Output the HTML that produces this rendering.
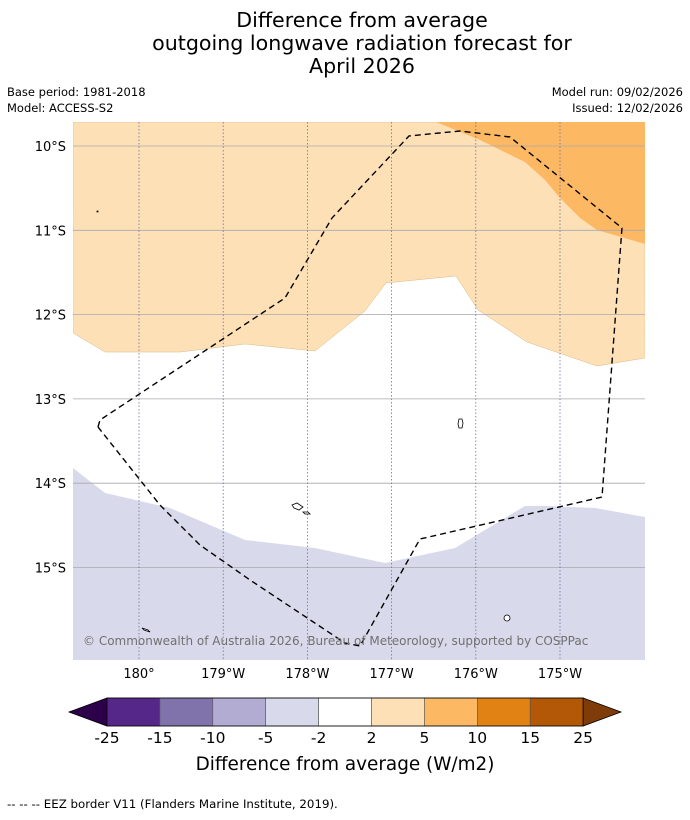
<!DOCTYPE html>
<html><head><meta charset="utf-8"><style>
body{margin:0;background:#fff;width:690px;height:816px;overflow:hidden;font-family:"DejaVu Sans","Liberation Sans",sans-serif}
</style></head><body>
<svg id="s" width="690" height="816" xmlns="http://www.w3.org/2000/svg" font-family="DejaVu Sans, Liberation Sans, sans-serif">
<g font-size="20.6" text-anchor="middle" fill="#000">
<text x="362" y="27">Difference from average</text>
<text x="362" y="50">outgoing longwave radiation forecast for</text>
<text x="362" y="73">April 2026</text>
</g>
<g font-size="11.5" fill="#000">
<text x="7" y="96">Base period: 1981-2018</text>
<text x="7" y="112">Model: ACCESS-S2</text>
<text x="683" y="96" text-anchor="end">Model run: 09/02/2026</text>
<text x="683" y="112" text-anchor="end">Issued: 12/02/2026</text>
</g>
<defs><clipPath id="mc"><rect x="73" y="122" width="572" height="538"/></clipPath></defs>
<g id="map" clip-path="url(#mc)"></g>
<g id="axes"></g>
<g id="cbar"></g>
<text x="345" y="770" font-size="18.4" text-anchor="middle">Difference from average (W/m2)</text>
<text x="7" y="808" font-size="11.8">--  --  -- EEZ border V11 (Flanders Marine Institute, 2019).</text>
</svg>
<script>
// data in degrees (lon east 0-360, lat positive south)
const lonTicks=[180,181,182,183,184,185];
const lonLabels=["180°","179°W","178°W","177°W","176°W","175°W"];
const latTicks=[10,11,12,13,14,15];
const latLabels=["10°S","11°S","12°S","13°S","14°S","15°S"];
const orangeLightLon=[179.216,179.596,180.487,181.259,182.090,182.684,182.933,183.765,184.026,184.608,185.439,186.01];
const orangeLightLat=[12.218,12.444,12.444,12.349,12.432,11.957,11.625,11.542,11.945,12.325,12.610,12.515];
const orangeMedLon=[183.527,184.050,184.584,184.822,185.0,185.238,185.439,186.01];
const orangeMedLat=[9.715,9.929,10.190,10.403,10.617,10.854,10.996,11.163];
const purpleLon=[179.216,179.596,180.368,181.259,182.090,182.922,183.753,184.584,184.822,185.416,186.01];
const purpleLat=[13.820,14.116,14.294,14.674,14.769,14.947,14.769,14.270,14.270,14.294,14.401];
const eezLon=[179.513,179.537,181.734,182.292,183.207,183.812,184.406,185.736,185.499,183.337,182.625,182.447,181.318,180.724,180.249,179.513];
const eezLat=[13.333,13.250,11.803,10.854,9.881,9.822,9.893,10.973,14.164,14.662,15.931,15.896,15.148,14.733,14.259,13.333];
const cbLevels=["-25","-15","-10","-5","-2","2","5","10","15","25"];
const cbColors=["#542788","#8073ac","#b2abd2","#d8daeb","#ffffff","#fee0b6","#fdb863","#e08214","#b35806"];
const cbLow="#2d004b", cbHigh="#7f3b08";

const NS="http://www.w3.org/2000/svg";
const X=lon=>139+(lon-180)*84.2;
const Y=lat=>146+(lat-10)*84.3;
function mk(t,a,p){const e=document.createElementNS(NS,t);for(const k in a)e.setAttribute(k,a[k]);p.appendChild(e);return e;}
const map=document.getElementById('map'),axes=document.getElementById('axes'),cb=document.getElementById('cbar');
mk('rect',{x:73,y:122,width:572,height:538,fill:'#ffffff'},map);
let d='M73,122 L645,122 '+orangeLightLon.slice().reverse().map((v,i,a)=>'L'+X(v)+','+Y(orangeLightLat[orangeLightLat.length-1-i])).join(' ')+'Z';
let p=mk('path',{d:d,fill:'#fee0b6',stroke:'#d9b98a','stroke-width':0.5},map);


d='M'+orangeMedLon.map((v,i)=>X(v)+','+Y(orangeMedLat[i])).join(' L')+' L645,122 Z';
p=mk('path',{d:d,fill:'#fdb863'},map);


d='M'+purpleLon.map((v,i)=>X(v)+','+Y(purpleLat[i])).join(' L')+' L645,660 L73,660 Z';
p=mk('path',{d:d,fill:'#d8daeb'},map);


latTicks.forEach((v,i)=>{
  const l=mk('line',{x1:73,x2:645,y1:Y(v),y2:Y(v),stroke:'#a8a8ae','stroke-width':0.8},map);
  
  
  const t=mk('text',{x:66,y:Y(v)+5,'font-size':13,'text-anchor':'end'},axes);t.textContent=latLabels[i];
  
  
});
lonTicks.forEach((v,i)=>{
  const l=mk('line',{x1:X(v),x2:X(v),y1:122,y2:660,stroke:'#7070a0','stroke-width':0.8,'stroke-dasharray':'1.5,2'},map);
  
  
  const t=mk('text',{x:X(v),y:678,'font-size':13,'text-anchor':'middle'},axes);t.textContent=lonLabels[i];
  
  
});
[[0,0,'M459,419 l3,0 l1,4 l-1,5 l-3,0 l-1,-4z'],[0,0,'M292,505 l5,-2 l6,4 l-4,3 l-5,-2z M303,512 l5,0 l2,2 l-5,0z'],[0,0,'M504,618 a3,3 0 1,0 6,0 a3,3 0 1,0 -6,0'],[0,0,'M142,628 l6,2 l2,2 l-6,-2z'],[0,0,'M97,211 l1,0 l0,1 l-1,0z']].forEach(s=>{
  const e=mk('path',{d:s[2],fill:'#fff',stroke:'#000','stroke-width':0.8},map);
  
  
});
d='M'+eezLon.map((v,i)=>X(v)+','+Y(eezLat[i])).join(' L');
p=mk('path',{d:d,fill:'none',stroke:'#000','stroke-width':1.4,'stroke-dasharray':'6,4'},map);


let ct=mk('text',{x:83,y:645,'font-size':12,fill:'#707070'},map);
ct.textContent='© Commonwealth of Australia 2026, Bureau of Meteorology, supported by COSPPac';


const cx0=107,cw=52.9,cy=698,ch=28;
let tri=mk('path',{d:`M${cx0},${cy} L69,${cy+ch/2} L${cx0},${cy+ch} Z`,fill:cbLow,stroke:'#000','stroke-width':0.8},cb);


const xe=cx0+cw*cbColors.length;
tri=mk('path',{d:`M${xe},${cy} L621,${cy+ch/2} L${xe},${cy+ch} Z`,fill:cbHigh,stroke:'#000','stroke-width':0.8},cb);


cbColors.forEach((c,i)=>{
  const r=mk('rect',{x:cx0+i*cw,y:cy,width:cw,height:ch,fill:c,stroke:'#555','stroke-width':0.6},cb);
  
  
});
mk('rect',{x:cx0,y:cy,width:cw*cbColors.length,height:ch,fill:'none',stroke:'#000','stroke-width':0.8},cb);
cbLevels.forEach((s,i)=>{
  const t=mk('text',{x:cx0+i*cw,y:743,'font-size':15.5,'text-anchor':'middle'},cb);t.textContent=s;
  
  
});
</script>
</body></html>
